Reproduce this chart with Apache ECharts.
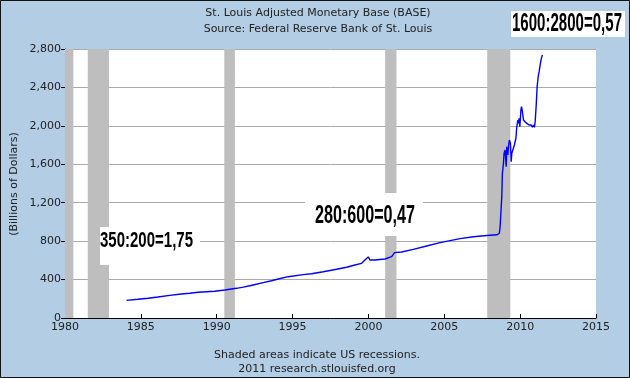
<!DOCTYPE html>
<html>
<head>
<meta charset="utf-8">
<script src="https://cdn.jsdelivr.net/npm/echarts@6/dist/echarts.min.js"></script>
<style>
html,body{margin:0;padding:0;background:#b3cde5;}
#chart{width:630px;height:378px;}
</style>
</head>
<body>
<div id="chart"></div>
<script>
// ---- data ----
const years = [
  1984.05, 1984.81, 1985.47, 1986.13, 1986.90, 1987.67, 1988.22, 1988.77, 1989.87, 1990.53,
  1991.30, 1991.75, 1992.18, 1992.40, 1993.06, 1993.61, 1994.05, 1994.71, 1995.70, 1996.25,
  1997.02, 1997.90, 1998.56, 1999.11, 1999.55, 1999.77, 1999.99, 2000.10, 2000.43, 2001.09,
  2001.53, 2001.64, 2001.72, 2001.80, 2002.19, 2002.96, 2003.84, 2004.72, 2005.38, 2006.04,
  2006.92, 2007.80, 2008.46, 2008.63, 2008.68, 2008.73, 2008.79, 2008.83, 2008.90, 2008.94,
  2009.01, 2009.08, 2009.12, 2009.19, 2009.23, 2009.29, 2009.36, 2009.41, 2009.45, 2009.56,
  2009.62, 2009.72, 2009.78, 2009.85, 2009.89, 2009.93, 2009.98, 2010.05, 2010.09, 2010.15,
  2010.22, 2010.28, 2010.38, 2010.51, 2010.59, 2010.73, 2010.81, 2010.88, 2010.94, 2010.99,
  2011.06, 2011.12, 2011.19, 2011.25, 2011.32, 2011.38, 2011.43, 2011.47, 2011.54
];
const values = [
  184, 195, 205, 219, 236, 250, 257, 268, 278, 291,
  309, 322, 336, 344, 368, 388, 406, 430, 451, 461,
  482, 507, 528, 552, 569, 604, 636, 604, 604, 614,
  638, 656, 680, 666, 687, 715, 750, 784, 805, 826,
  846, 858, 866, 882, 950, 1090, 1263, 1506, 1610, 1714,
  1749, 1575, 1783, 1697, 1783, 1853, 1818, 1627, 1714, 1731,
  1801, 1871, 1991, 2061, 2027, 2079, 1991, 2165, 2200, 2148,
  2061, 2044, 2033, 2044, 2009, 2009, 1985, 2009, 1985, 2044,
  2217, 2408, 2512, 2564, 2634, 2686, 2720, 2738, 2727
];
const recessionStarts = [1980.0, 1981.5, 1990.5, 2001.1, 2007.83];
const recessionEnds   = [1980.55, 1982.9, 1991.2, 2001.85, 2009.35];
const xTickLabels = [1980, 1985, 1990, 1995, 2000, 2005, 2010, 2015];
const yTickLabels = [0, 400, 800, 1200, 1600, 2000, 2400, 2800];
const titleLines = ['St. Louis Adjusted Monetary Base (BASE)', 'Source: Federal Reserve Bank of St. Louis'];
const footLines = ['Shaded areas indicate US recessions.', '2011 research.stlouisfed.org'];
const yAxisTitle = '(Billions of Dollars)';
const annotationTexts = ['350:200=1,75', '280:600=0,47', '1600:2800=0,57'];

// ---- chart ----
const chart = echarts.init(document.getElementById('chart'), null, {renderer: 'canvas'});
const baseFont = '"DejaVu Sans", Verdana, sans-serif';
const annFontFamily = '"Liberation Sans", Arial, sans-serif';

function measure(text, font) {
  const c = document.createElement('canvas').getContext('2d');
  c.font = font;
  return c.measureText(text).width;
}
function annotation(text, box, tx, ty, size, targetW) {
  const font = 'bold ' + size + 'px ' + annFontFamily;
  const s = targetW / measure(text, font);
  return [
    {type: 'rect', z: 100, shape: box, style: {fill: '#ffffff'}},
    {type: 'text', z: 101, x: tx, y: ty, scaleX: s,
      style: {text: text, x: 0, y: 0, font: font, fill: '#000',
        align: 'left', verticalAlign: 'middle', textAlign: 'left', textVerticalAlign: 'middle'}}
  ];
}

const seriesData = years.map((y, i) => [y, values[i]]);
const areas = recessionStarts.map((s, i) => [{xAxis: s}, {xAxis: recessionEnds[i]}]);

const txt = (t, x, y, extra) => Object.assign({type: 'text', z: 50, x: x, y: y,
  style: {text: t, x: 0, y: 0, font: '11px ' + baseFont, fill: '#222',
    align: 'center', verticalAlign: 'middle', textAlign: 'center', textVerticalAlign: 'middle'}}, extra || {});

const option = {
  backgroundColor: '#b3cde5',
  animation: false,
  grid: {left: 65, right: 34, top: 49, bottom: 60, show: true, backgroundColor: '#ffffff', borderWidth: 0},
  xAxis: {
    type: 'value', min: xTickLabels[0], max: xTickLabels[xTickLabels.length - 1], interval: 5,
    axisLine: {show: true, onZero: false, lineStyle: {color: '#000', width: 1}},
    axisTick: {show: true, inside: true, length: 4, lineStyle: {color: '#000'}},
    axisLabel: {color: '#222', fontFamily: baseFont, fontSize: 11, margin: 4, formatter: v => String(v)},
    splitLine: {show: false}
  },
  yAxis: {
    type: 'value', min: yTickLabels[0], max: yTickLabels[yTickLabels.length - 1], interval: 400,
    axisLine: {show: true, lineStyle: {color: '#000', width: 1}},
    axisTick: {show: true, inside: false, length: 4, lineStyle: {color: '#000'}},
    axisLabel: {color: '#222', fontFamily: baseFont, fontSize: 11, margin: 4,
      formatter: v => v.toLocaleString('en-US')},
    splitLine: {show: true, lineStyle: {color: '#aaaaaa', width: 1}}
  },
  series: [
    {
      type: 'line', z: 1, data: [], silent: true,
      markArea: {silent: true, itemStyle: {color: '#bebebe', opacity: 1}, data: areas}
    },
    {
      type: 'line', z: 3, data: seriesData, showSymbol: false, symbol: 'none',
      lineStyle: {color: '#0000ff', width: 1.4}
    }
  ],
  graphic: [].concat(
    [
      txt(titleLines[0], 318, 13),
      txt(titleLines[1], 318, 29),
      txt(footLines[0], 317, 355),
      txt(footLines[1], 317, 369),
      txt(yAxisTitle, 14, 184, {rotation: Math.PI / 2}),
      {type: 'rect', z: 200, shape: {x: 0.5, y: 0.5, width: 629, height: 377},
        style: {fill: 'none', stroke: '#111', lineWidth: 1}}
    ],
    annotation(annotationTexts[0], {x: 100, y: 227, width: 100, height: 38}, 100, 241, 22, 93),
    annotation(annotationTexts[1], {x: 305, y: 193, width: 118, height: 43}, 315, 216, 25, 100),
    annotation(annotationTexts[2], {x: 511, y: 11, width: 114, height: 26}, 512, 24, 25, 110)
  )
};
chart.setOption(option);
</script>
</body>
</html>
